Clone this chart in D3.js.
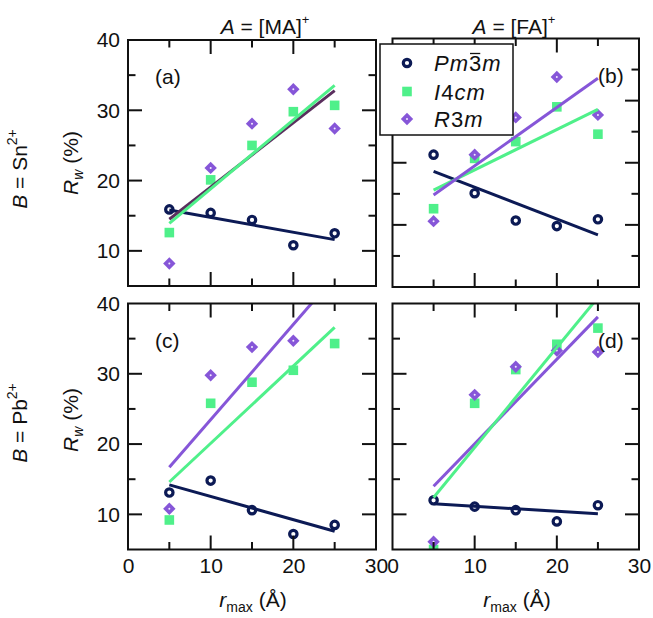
<!DOCTYPE html>
<html>
<head>
<meta charset="utf-8">
<script src="https://cdn.jsdelivr.net/npm/d3@7"></script>
<style>
  html, body { margin: 0; padding: 0; background: #fff; }
  svg { display: block; font-family: "Liberation Sans", Arial, Helvetica, sans-serif; }
</style>
</head>
<body>
<svg id="chart" width="653" height="618"></svg>
<script>
// ---------------- data ----------------
const rmax = [5, 10, 15, 20, 25];
const xTickLabels = [0, 10, 20, 30];
const yTickLabels = [10, 20, 30, 40];
const seriesNames = ["Pm3m", "I4cm", "R3m"];

// panel (a): A=[MA]+, B=Sn2+
const pm3m_a = [15.9, 15.4, 14.4, 10.8, 12.5];
const i4cm_a = [12.6, 20.1, 25.0, 29.8, 30.7];
const r3m_a  = [8.2, 21.8, 28.1, 33.0, 27.4];
// panel (b): A=[FA]+, B=Sn2+
const pm3m_b = [21.3, 15.1, 10.7, 9.8, 10.9];
const i4cm_b = [12.6, 20.7, 23.4, 29.0, 24.6];
const r3m_b  = [10.6, 21.3, 27.3, 33.8, 27.7];
// panel (c): A=[MA]+, B=Pb2+
const pm3m_c = [13.1, 14.8, 10.6, 7.2, 8.5];
const i4cm_c = [9.2, 25.8, 28.8, 30.5, 34.3];
const r3m_c  = [10.8, 29.8, 33.8, 34.7, null];
// panel (d): A=[FA]+, B=Pb2+
const pm3m_d = [12.0, 11.1, 10.6, 9.0, 11.3];
const i4cm_d = [5.0, 25.8, 30.6, 34.2, 36.5];
const r3m_d  = [6.1, 27.0, 31.0, 33.3, 33.1];

// linear-fit lines (values at r = 5 and r = 25)
const fitX = [5, 25];
const fit_pm3m_a = [15.8, 11.6], fit_i4cm_a = [13.9, 33.55], fit_r3m_a = [14.5, 32.8];
const fit_pm3m_b = [18.6, 8.4],  fit_i4cm_b = [15.6, 28.6],  fit_r3m_b = [14.8, 33.6];
const fit_pm3m_c = [14.2, 7.6],  fit_i4cm_c = [14.6, 36.6],  fit_r3m_c = [16.7, 43.8];
const fit_pm3m_d = [11.5, 10.1], fit_i4cm_d = [12.4, 40.85], fit_r3m_d = [14.0, 38.1];

// ---------------- style ----------------
const C_NAVY = "#0c1a55", C_GREEN = "#4ff08a", C_PURPLE = "#8656d8", C_DARK = "#5a2f5e";

const panels = [
  { id: "a", x0: 128, x1: 376, y0: 40, y1: 286, yDom: [5, 40], label: "(a)", labX: 155,
    pm: pm3m_a, i4: i4cm_a, r3: r3m_a, fpm: fit_pm3m_a, fi4: fit_i4cm_a, fr3: fit_r3m_a,
    r3LineColor: C_DARK, lineOrder: ["pm", "r3", "i4"], yLabels: true, xLabels: false },
  { id: "b", x0: 392.5, x1: 639, y0: 38.5, y1: 287, yDom: [0, 40], label: "(b)", labX: 598,
    pm: pm3m_b, i4: i4cm_b, r3: r3m_b, fpm: fit_pm3m_b, fi4: fit_i4cm_b, fr3: fit_r3m_b,
    r3LineColor: C_PURPLE, lineOrder: ["pm", "i4", "r3"], yLabels: false, xLabels: false },
  { id: "c", x0: 128, x1: 376, y0: 303.5, y1: 549.5, yDom: [5, 40], label: "(c)", labX: 155,
    pm: pm3m_c, i4: i4cm_c, r3: r3m_c, fpm: fit_pm3m_c, fi4: fit_i4cm_c, fr3: fit_r3m_c,
    r3LineColor: C_PURPLE, lineOrder: ["pm", "i4", "r3"], yLabels: true, xLabels: true },
  { id: "d", x0: 392.5, x1: 639, y0: 303.5, y1: 549.5, yDom: [5, 40], label: "(d)", labX: 598,
    pm: pm3m_d, i4: i4cm_d, r3: r3m_d, fpm: fit_pm3m_d, fi4: fit_i4cm_d, fr3: fit_r3m_d,
    r3LineColor: C_PURPLE, lineOrder: ["pm", "r3", "i4"], yLabels: false, xLabels: true }
];

const svg = d3.select("#chart");
const defs = svg.append("defs");

function circleMark(g, x, y) {
  g.append("circle").attr("cx", x).attr("cy", y).attr("r", 3.7)
    .attr("fill", "#fff").attr("stroke", C_NAVY).attr("stroke-width", 3.2);
}
function squareMark(g, x, y) {
  g.append("rect").attr("x", x - 4.8).attr("y", y - 4.8).attr("width", 9.6).attr("height", 9.6)
    .attr("fill", C_GREEN);
}
function diamondMark(g, x, y) {
  const s = 6.2;
  g.append("path").attr("d", `M${x},${y - s}L${x + s},${y}L${x},${y + s}L${x - s},${y}Z`)
    .attr("fill", C_PURPLE);
  g.append("circle").attr("cx", x).attr("cy", y).attr("r", 1).attr("fill", "#f2ecff");
}

panels.forEach(p => {
  const x = d3.scaleLinear().domain([0, 30]).range([p.x0, p.x1]);
  const y = d3.scaleLinear().domain(p.yDom).range([p.y1, p.y0]);
  const g = svg.append("g");

  defs.append("clipPath").attr("id", "clip-" + p.id)
    .append("rect").attr("x", p.x0).attr("y", p.y0)
    .attr("width", p.x1 - p.x0).attr("height", p.y1 - p.y0);

  const plot = g.append("g").attr("clip-path", `url(#clip-${p.id})`);

  // markers
  rmax.forEach((r, i) => {
    if (p.i4[i] != null) squareMark(plot, x(r), y(p.i4[i]));
  });
  rmax.forEach((r, i) => {
    if (p.r3[i] != null) diamondMark(plot, x(r), y(p.r3[i]));
  });
  rmax.forEach((r, i) => {
    if (p.pm[i] != null) circleMark(plot, x(r), y(p.pm[i]));
  });

  // fit lines
  const line = d3.line().x(d => x(d[0])).y(d => y(d[1]));
  const lines = {
    pm: { v: p.fpm, c: C_NAVY },
    i4: { v: p.fi4, c: C_GREEN },
    r3: { v: p.fr3, c: p.r3LineColor }
  };
  p.lineOrder.forEach(k => {
    const L = lines[k];
    plot.append("path")
      .attr("d", line(fitX.map((fx, i) => [fx, L.v[i]])))
      .attr("fill", "none").attr("stroke", L.c).attr("stroke-width", 3);
  });

  // frame
  g.append("rect").attr("x", p.x0).attr("y", p.y0)
    .attr("width", p.x1 - p.x0).attr("height", p.y1 - p.y0)
    .attr("fill", "none").attr("stroke", "#111").attr("stroke-width", 2);

  // ticks (mirrored on all sides)
  const xMajor = [10, 20], xMinor = [5, 15, 25];
  const yMajor = [10, 20, 30];
  const yMinor = p.yDom[0] === 0 ? [5, 15, 25, 35] : [15, 25, 35];
  const MAJ = 14, MIN = 7.5;
  const tk = (x1, y1, x2, y2) => g.append("line").attr("x1", x1).attr("y1", y1)
    .attr("x2", x2).attr("y2", y2).attr("stroke", "#111").attr("stroke-width", 2);
  xMajor.forEach(v => { tk(x(v), p.y1, x(v), p.y1 - MAJ); tk(x(v), p.y0, x(v), p.y0 + MAJ); });
  xMinor.forEach(v => { tk(x(v), p.y1, x(v), p.y1 - MIN); tk(x(v), p.y0, x(v), p.y0 + MIN); });
  yMajor.forEach(v => { tk(p.x0, y(v), p.x0 + MAJ, y(v)); tk(p.x1, y(v), p.x1 - MAJ, y(v)); });
  yMinor.forEach(v => { tk(p.x0, y(v), p.x0 + MIN, y(v)); tk(p.x1, y(v), p.x1 - MIN, y(v)); });

  // tick labels via d3 axes (tick lines hidden; frame ticks drawn above)
  if (p.yLabels) {
    const ax = d3.axisLeft(y).tickValues(yTickLabels).tickSize(0).tickPadding(8).tickFormat(d3.format("d"));
    const ga = svg.append("g").attr("transform", `translate(${p.x0},0)`).call(ax);
    ga.select(".domain").remove();
    ga.selectAll("text").attr("font-size", 21).attr("fill", "#111")
      .attr("font-family", "'Liberation Sans', Arial, sans-serif");
  }
  if (p.xLabels) {
    const ax = d3.axisBottom(x).tickValues(xTickLabels).tickSize(0).tickPadding(9).tickFormat(d3.format("d"));
    const ga = svg.append("g").attr("transform", `translate(0,${p.y1})`).call(ax);
    ga.select(".domain").remove();
    ga.selectAll("text").attr("font-size", 21).attr("fill", "#111")
      .attr("font-family", "'Liberation Sans', Arial, sans-serif");
  }

  // panel label
  svg.append("text").attr("x", p.labX).attr("y", p.y0 + 44)
    .attr("font-size", 21).attr("fill", "#111").text(p.label);
});

// ---------------- legend ----------------
const lg = svg.append("g");
lg.append("rect").attr("x", 380).attr("y", 44).attr("width", 133).attr("height", 91)
  .attr("fill", "#fff").attr("stroke", "#111").attr("stroke-width", 1.5);
const legY = [63, 91.5, 119];
circleMark(lg, 407, legY[0]);
squareMark(lg, 407, legY[1]);
diamondMark(lg, 407, legY[2]);

function legText(yy, parts) {
  const t = lg.append("text").attr("x", 434).attr("y", yy + 8).attr("font-size", 22)
    .attr("fill", "#111").attr("letter-spacing", 1);
  parts.forEach(pt => t.append("tspan").attr("font-style", pt[1] ? "italic" : "normal").text(pt[0]));
  return t;
}
const t0 = legText(legY[0], [["Pm", true], ["3", false], ["m", true]]);
legText(legY[1], [["I", true], ["4", false], ["cm", true]]);
legText(legY[2], [["R", true], ["3", false], ["m", true]]);
// overbar over the "3" of Pm3m
(function () {
  const node = t0.node();
  const s = node.getStartPositionOfChar(2), e = node.getEndPositionOfChar(2);
  lg.append("line").attr("x1", s.x + 1).attr("x2", e.x - 2)
    .attr("y1", legY[0] - 9.5).attr("y2", legY[0] - 9.5)
    .attr("stroke", "#111").attr("stroke-width", 1.3);
})();

// ---------------- titles & axis labels ----------------
function colTitle(cx, name) {
  const t = svg.append("text").attr("x", cx).attr("y", 34).attr("text-anchor", "middle")
    .attr("font-size", 21).attr("fill", "#111");
  t.append("tspan").attr("font-style", "italic").text("A");
  t.append("tspan").text(" = [" + name + "]");
  t.append("tspan").attr("font-size", 13).attr("dy", -10).text("+");
}
colTitle(265, "MA");
colTitle(514, "FA");

function xLabel(cx) {
  const t = svg.append("text").attr("x", cx).attr("y", 607).attr("text-anchor", "middle")
    .attr("font-size", 21).attr("fill", "#111");
  t.append("tspan").attr("font-style", "italic").text("r");
  t.append("tspan").attr("font-size", 14).attr("dy", 5).text("max");
  t.append("tspan").attr("dy", -5).text(" (Å)");
}
xLabel(253);
xLabel(517);

function yLabel(cy) {
  const t = svg.append("text").attr("transform", `translate(78,${cy}) rotate(-90)`)
    .attr("text-anchor", "middle").attr("font-size", 21).attr("fill", "#111");
  t.append("tspan").attr("font-style", "italic").text("R");
  t.append("tspan").attr("font-style", "italic").attr("font-size", 14).attr("dy", 5).text("w");
  t.append("tspan").attr("dy", -5).text(" (%)");
}
yLabel(163);
yLabel(420);

function rowLabel(cy, el) {
  const t = svg.append("text").attr("transform", `translate(27,${cy}) rotate(-90)`)
    .attr("text-anchor", "middle").attr("font-size", 21).attr("fill", "#111");
  t.append("tspan").attr("font-style", "italic").text("B");
  t.append("tspan").text(" = " + el);
  t.append("tspan").attr("font-size", 14).attr("dy", -10).text("2+");
}
rowLabel(169, "Sn");
rowLabel(423, "Pb");
</script>
</body>
</html>
